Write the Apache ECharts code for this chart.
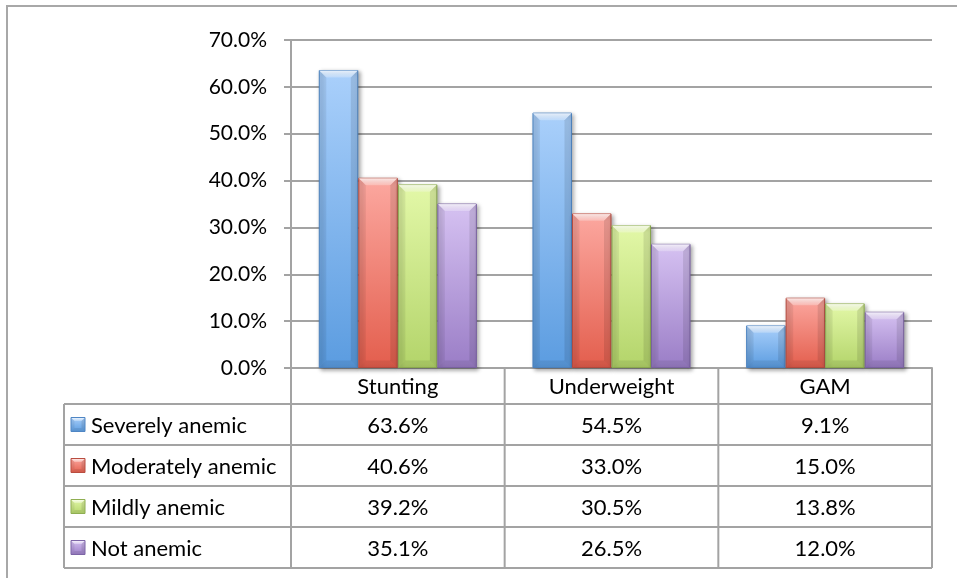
<!DOCTYPE html>
<html>
<head>
<meta charset="utf-8">
<script src="https://cdn.jsdelivr.net/npm/echarts@6/dist/echarts.min.js"></script>
<style>
  html, body { margin: 0; padding: 0; background: #ffffff; }
  #chart { width: 957px; height: 578px; }
</style>
</head>
<body>
<div id="chart"></div>
<script>
// ---- data ----
const categories = ['Stunting', 'Underweight', 'GAM'];
const seriesNames = ['Severely anemic', 'Moderately anemic', 'Mildly anemic', 'Not anemic'];
const severelyAnemic = [63.6, 54.5, 9.1];
const moderatelyAnemic = [40.6, 33.0, 15.0];
const mildlyAnemic = [39.2, 30.5, 13.8];
const notAnemic = [35.1, 26.5, 12.0];
const yTickValues = [0, 10, 20, 30, 40, 50, 60, 70];

// ---- styling ----
const seriesValues = [severelyAnemic, moderatelyAnemic, mildlyAnemic, notAnemic];
const palette = [
  { top: '#aad0fb', bottom: '#5b9ce0', edge: '#4f86c4' },
  { top: '#fca8a0', bottom: '#e35e4d', edge: '#b94d40' },
  { top: '#e3f8a8', bottom: '#b3d46a', edge: '#8fae52' },
  { top: '#d6c2f2', bottom: '#9a7dc6', edge: '#7d65a6' }
];
const FONT = 'Lato, "Open Sans", sans-serif';
const LINE = '#a3a3a3';
const W = 957, H = 578;
const GRID = { left: 291, right: 25, top: 40, bottom: 210 };
const HEADER_H = 36, ROW_H = 41, TABLE_LEFT = 64;
const CAT_GAP = 0.26;   // share of a category left empty around its bar group
const BEVEL = 7;

function pct(v) { return v.toFixed(1) + '%'; }

function barFill(c) {
  return new echarts.graphic.LinearGradient(0, 0, 0, 1, [
    { offset: 0, color: c.top },
    { offset: 1, color: c.bottom }
  ]);
}

// Bevel facets laid over a rectangle to give the glossy, chiselled look
function bevelShapes(x, y, w, h, b) {
  b = Math.max(0, Math.min(b, w / 2, h / 2));
  const poly = (pts, fill) => ({ type: 'polygon', silent: true, shape: { points: pts }, style: { fill } });
  return [
    poly([[x, y], [x + w, y], [x + w - b, y + b], [x + b, y + b]],
      new echarts.graphic.LinearGradient(0, 0, 0, 1, [
        { offset: 0, color: 'rgba(255,255,255,0.75)' },
        { offset: 1, color: 'rgba(255,255,255,0.25)' }
      ])),
    poly([[x, y], [x + b, y + b], [x + b, y + h - b], [x, y + h]], 'rgba(0,0,0,0.06)'),
    poly([[x + w, y], [x + w - b, y + b], [x + w - b, y + h - b], [x + w, y + h]], 'rgba(0,0,0,0.10)'),
    poly([[x, y + h], [x + b, y + h - b], [x + w - b, y + h - b], [x + w, y + h]], 'rgba(0,0,0,0.08)')
  ];
}

const chart = echarts.init(document.getElementById('chart'), null, { renderer: 'canvas' });

const barSeries = seriesNames.map((name, i) => ({
  name: name,
  type: 'bar',
  data: seriesValues[i],
  barGap: '0%',
  barCategoryGap: (CAT_GAP * 100) + '%',
  itemStyle: {
    color: barFill(palette[i]),
    borderColor: palette[i].edge,
    borderWidth: 1,
    shadowColor: 'rgba(0,0,0,0.35)',
    shadowBlur: 4,
    shadowOffsetX: 2,
    shadowOffsetY: 2
  },
  emphasis: { disabled: true }
}));

// bevel overlays positioned from the same values through the axis scales
const bevelSeries = seriesNames.map((name, s) => ({
  name: name + ' bevel',
  type: 'custom',
  silent: true,
  z: 3,
  data: seriesValues[s].map((v, i) => [i, v]),
  renderItem: function (params, api) {
    const idx = api.value(0);
    const base = api.coord([idx, 0]);
    const top = api.coord([idx, api.value(1)]);
    const catW = api.size([1, 0])[0];
    const n = seriesNames.length;
    const barW = catW * (1 - CAT_GAP) / n;
    const x = base[0] - catW * (1 - CAT_GAP) / 2 + s * barW;
    return { type: 'group', children: bevelShapes(x + 0.5, top[1] + 0.5, barW - 1, base[1] - top[1] - 1, BEVEL) };
  }
}));

// ---- data table under the plot ----
function buildTable() {
  const plotW = W - GRID.left - GRID.right;
  const colW = plotW / categories.length;
  const axisY = H - GRID.bottom;
  const tableTop = axisY + HEADER_H;
  const tableBottom = tableTop + ROW_H * seriesNames.length;
  const right = GRID.left + plotW;
  const els = [];
  const line = (x1, y1, x2, y2) => els.push({
    type: 'line', silent: true,
    shape: { x1, y1, x2, y2 },
    style: { stroke: LINE, lineWidth: 2 }
  });

  // outer chart frame
  els.push({
    type: 'rect', silent: true,
    shape: { x: 7, y: 6, width: 1200, height: 1200 },
    style: { fill: null, stroke: '#a8a8a8', lineWidth: 2 }
  });

  // vertical rules
  for (let c = 0; c <= categories.length; c++) {
    const x = GRID.left + c * colW;
    line(x, axisY, x, tableBottom);
  }
  line(TABLE_LEFT, tableTop, TABLE_LEFT, tableBottom);
  // horizontal rules
  for (let r = 0; r <= seriesNames.length; r++) {
    const y = tableTop + r * ROW_H;
    line(TABLE_LEFT, y, right, y);
  }

  // header row: category names
  categories.forEach((cat, c) => {
    els.push({
      type: 'text', silent: true,
      style: {
        text: cat, x: GRID.left + (c + 0.5) * colW, y: axisY + HEADER_H / 2 + 1,
        align: 'center', verticalAlign: 'middle',
        font: '22px ' + FONT, fill: '#000'
      }
    });
  });

  // data rows
  seriesNames.forEach((name, r) => {
    const cy = tableTop + (r + 0.5) * ROW_H + 1;
    // legend key
    els.push({
      type: 'rect', silent: true,
      shape: { x: 71, y: cy - 8, width: 14, height: 14 },
      style: { fill: barFill(palette[r]), stroke: palette[r].edge, lineWidth: 1 }
    });
    els.push({ type: 'group', silent: true, children: bevelShapes(71.5, cy - 7.5, 13, 13, 3) });
    els.push({
      type: 'text', silent: true,
      style: {
        text: name, x: 91, y: cy,
        align: 'left', verticalAlign: 'middle',
        font: '22px ' + FONT, fill: '#000'
      }
    });
    seriesValues[r].forEach((v, c) => {
      els.push({
        type: 'text', silent: true,
        style: {
          text: pct(v), x: GRID.left + (c + 0.5) * colW, y: cy,
          align: 'center', verticalAlign: 'middle',
          font: '22px ' + FONT, fill: '#000'
        }
      });
    });
  });
  return els;
}

chart.setOption({
  animation: false,
  backgroundColor: '#ffffff',
  grid: { left: GRID.left, right: GRID.right, top: GRID.top, bottom: GRID.bottom, containLabel: false },
  xAxis: {
    type: 'category',
    data: categories,
    axisLine: { show: true, lineStyle: { color: LINE, width: 2 } },
    axisTick: { show: false },
    axisLabel: { show: false },
    splitLine: { show: false }
  },
  yAxis: {
    type: 'value',
    min: yTickValues[0],
    max: yTickValues[yTickValues.length - 1],
    interval: yTickValues[1] - yTickValues[0],
    axisLine: { show: true, lineStyle: { color: LINE, width: 2 } },
    axisTick: { show: true, length: 7, lineStyle: { color: LINE, width: 2 } },
    axisLabel: {
      formatter: v => pct(v),
      margin: 24,
      color: '#000',
      fontFamily: FONT,
      fontSize: 21
    },
    splitLine: { show: true, lineStyle: { color: LINE, width: 2 } }
  },
  series: barSeries.concat(bevelSeries),
  graphic: buildTable()
});
</script>
</body>
</html>
